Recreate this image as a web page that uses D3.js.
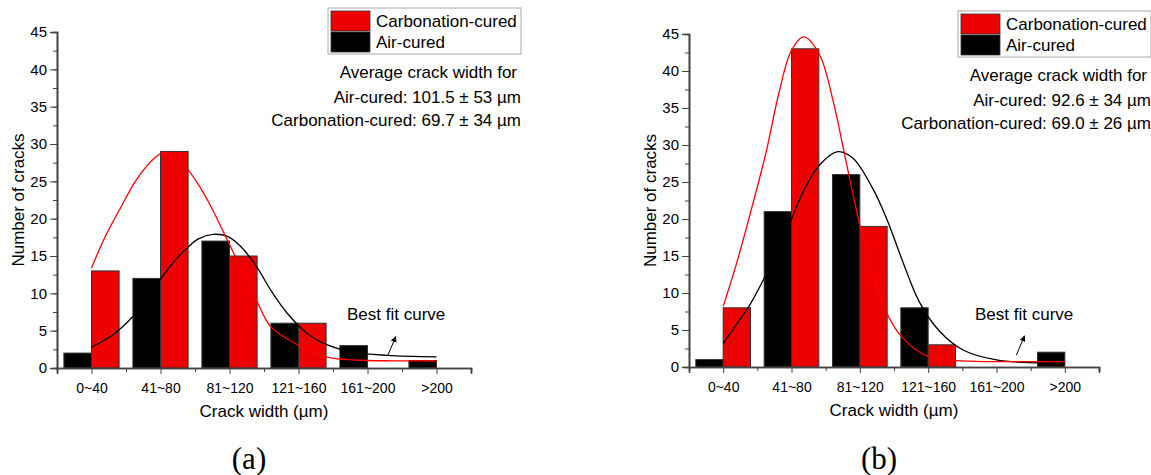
<!DOCTYPE html>
<html>
<head>
<meta charset="utf-8">
<script src="https://cdn.jsdelivr.net/npm/d3@7/dist/d3.min.js"></script>
<style>
  html, body { margin: 0; padding: 0; background: #fff; }
  svg { display: block; }
  text { font-family: "Liberation Sans", Arial, sans-serif; fill: #000; }
  text.panel-label { font-family: "Liberation Serif", "Times New Roman", serif; }
</style>
</head>
<body>
<svg id="chart" width="1151" height="475"></svg>
<script>
// Crack width classes shared by both panels
const categories = ["0~40", "41~80", "81~120", "121~160", "161~200", ">200"];
const yTickValues = [0, 5, 10, 15, 20, 25, 30, 35, 40, 45];

// Panel (a): crack counts per width class
const airCountsA = [2, 12, 17, 6, 3, 1];
const carbCountsA = [13, 29, 15, 6, 0, 0];
// Panel (b): crack counts per width class
const airCountsB = [1, 21, 26, 8, 0, 2];
const carbCountsB = [8, 43, 19, 3, 0, 0];

// Best fit curves, as [class position, count]
const carbFitA = [[0, 13.4], [0.2, 17.6], [0.43, 21.6], [0.65, 25.2], [0.91, 28.1], [1.08, 28.9], [1.4, 26.5],
  [1.68, 22.5], [1.97, 17.1], [2.2, 12.7], [2.39, 9.1], [2.6, 5.5], [2.99, 3.1], [3.4, 1.5], [3.81, 1.07],
  [4.4, 0.96], [5, 0.94]];
const airFitA = [[0, 2.8], [0.33, 4.6], [0.6, 6.9], [0.8, 9.2], [1.0, 11.9], [1.2, 14.3], [1.4, 16.2],
  [1.55, 17.3], [1.76, 17.9], [1.98, 17.6], [2.17, 16.2], [2.39, 13.6], [2.6, 10.4], [2.84, 7.3], [3.13, 4.6],
  [3.42, 3.1], [3.81, 2.1], [4.29, 1.7], [5, 1.5]];
const carbFitB = [[0, 8.2], [0.19, 13.8], [0.43, 21.9], [0.63, 29.1], [0.82, 37.2], [1.0, 42.8], [1.18, 44.6],
  [1.41, 42.2], [1.61, 35.9], [1.8, 27.7], [2.0, 19.2], [2.2, 12.5], [2.41, 7.0], [2.63, 3.9], [3.0, 1.4],
  [3.41, 0.85], [4.0, 0.73], [5, 0.72]];
const airFitB = [[0, 3.2], [0.19, 5.7], [0.39, 8.4], [0.6, 12.0], [0.8, 15.8], [1.0, 20.0], [1.17, 23.7],
  [1.41, 27.3], [1.68, 29.1], [1.9, 28.2], [2.19, 24.1], [2.39, 20.1], [2.63, 14.2], [2.87, 8.8], [3.17, 4.8],
  [3.51, 2.3], [4.0, 0.95], [4.58, 0.55], [5, 0.5]];

// Summary lines
const statsA = ["Average crack width for", "Air-cured: 101.5 \u00b1 53 \u00b5m", "Carbonation-cured: 69.7 \u00b1 34 \u00b5m"];
const statsB = ["Average crack width for", "Air-cured: 92.6 \u00b1 34 \u00b5m", "Carbonation-cured: 69.0 \u00b1 26 \u00b5m"];
const seriesNames = ["Carbonation-cured", "Air-cured"];

const RED = "#ee0000";
const AXIS = "#444";

const svg = d3.select("#chart");
const defs = svg.append("defs");
defs.append("marker")
  .attr("id", "arrowHead")
  .attr("viewBox", "0 0 10 10")
  .attr("refX", 9).attr("refY", 5)
  .attr("markerWidth", 6).attr("markerHeight", 6)
  .attr("markerUnits", "userSpaceOnUse")
  .attr("orient", "auto")
  .append("path").attr("d", "M0,0 L10,5 L0,10 z").attr("fill", "#000");

function drawPanel(p) {
  const g = svg.append("g");
  const x = d3.scaleLinear().domain([-0.5, categories.length - 0.5]).range([p.left, p.right]);
  const y = d3.scaleLinear().domain([0, 45]).range([p.bottom, p.top]);
  const barW = 0.4;

  // bars: air-cured left of each class tick, carbonation-cured right of it
  g.append("g").selectAll("rect").data(p.air).join("rect")
    .attr("x", (d, i) => x(i - barW)).attr("width", (d, i) => x(i) - x(i - barW))
    .attr("y", d => y(d)).attr("height", d => y(0) - y(d))
    .attr("fill", "#000").attr("stroke", "#333").attr("stroke-width", 1)
    .attr("display", d => d > 0 ? null : "none");
  g.append("g").selectAll("rect").data(p.carb).join("rect")
    .attr("x", (d, i) => x(i)).attr("width", (d, i) => x(i + barW) - x(i))
    .attr("y", d => y(d)).attr("height", d => y(0) - y(d))
    .attr("fill", RED).attr("stroke", "#333").attr("stroke-width", 1)
    .attr("display", d => d > 0 ? null : "none");

  // fitted distribution curves
  const line = d3.line().x(d => x(d[0])).y(d => y(d[1])).curve(d3.curveCatmullRom.alpha(0.5));
  g.append("path").datum(p.airFit).attr("d", line)
    .attr("fill", "none").attr("stroke", "#000").attr("stroke-width", 1.3);
  g.append("path").datum(p.carbFit).attr("d", line)
    .attr("fill", "none").attr("stroke", "#ff0000").attr("stroke-width", 1.3);

  // y axis
  const yAxis = g.append("g").attr("transform", `translate(${p.left},0)`);
  yAxis.call(d3.axisLeft(y).tickValues(d3.range(0, 45.1, 2.5)).tickSize(4).tickFormat(""));
  yAxis.call(ax => ax.selectAll(".tick line").attr("stroke", AXIS));
  const yMajor = g.append("g").attr("transform", `translate(${p.left},0)`)
    .call(d3.axisLeft(y).tickValues(yTickValues).tickSize(7).tickPadding(3));
  yMajor.selectAll(".tick line").attr("stroke", AXIS);
  yMajor.selectAll(".tick text").style("font-size", "15px").attr("fill", "#000");
  [yAxis, yMajor].forEach(a => a.select(".domain").attr("stroke", AXIS).attr("stroke-width", 1.6));

  // x axis: class ticks plus minor ticks between classes
  const xMinor = g.append("g").attr("transform", `translate(0,${p.bottom})`)
    .call(d3.axisBottom(x).tickValues(d3.range(-0.5, categories.length, 1)).tickSize(4).tickFormat(""));
  xMinor.selectAll(".tick line").attr("stroke", AXIS);
  const xMajor = g.append("g").attr("transform", `translate(0,${p.bottom})`)
    .call(d3.axisBottom(x).tickValues(d3.range(categories.length)).tickSize(6).tickPadding(9)
      .tickFormat(i => categories[i]));
  xMajor.selectAll(".tick line").attr("stroke", AXIS);
  xMajor.selectAll(".tick text").style("font-size", "14px").attr("fill", "#000");
  [xMinor, xMajor].forEach(a => a.select(".domain").attr("stroke", AXIS).attr("stroke-width", 1.6));

  // axis titles
  g.append("text").attr("x", (p.left + p.right) / 2).attr("y", p.bottom + 49)
    .attr("text-anchor", "middle").attr("font-size", 17).text("Crack width (\u00b5m)");
  g.append("text").attr("transform", `translate(${p.left - 33},${(p.top + p.bottom) / 2}) rotate(-90)`)
    .attr("text-anchor", "middle").attr("font-size", 17).text("Number of cracks");

  // legend
  const lg = g.append("g").attr("transform", `translate(${p.legendX},${p.legendY})`);
  lg.append("rect").attr("width", 193).attr("height", 46).attr("fill", "#fff")
    .attr("stroke", "#aaa").attr("stroke-width", 1);
  [RED, "#000"].forEach((c, i) => {
    lg.append("rect").attr("x", 3).attr("y", 3 + i * 21).attr("width", 39).attr("height", 20)
      .attr("fill", c).attr("stroke", "#333").attr("stroke-width", 0.8);
    lg.append("text").attr("x", 48).attr("y", 19 + i * 21).attr("font-size", 17).text(seriesNames[i]);
  });

  // summary text
  g.append("g").selectAll("text").data(p.stats).join("text")
    .attr("x", (d, i) => p.legendX + (i === 0 ? 189 : 193))
    .attr("y", (d, i) => p.statsY + [0, 25, 48][i])
    .attr("text-anchor", "end").attr("font-size", 17).text(d => d);

  // best fit annotation
  g.append("text").attr("x", p.noteX).attr("y", p.noteY).attr("font-size", 17).text("Best fit curve");
  g.append("line")
    .attr("x1", x(4.29)).attr("y1", y(1.6)).attr("x2", x(4.41)).attr("y2", y(4.2))
    .attr("stroke", "#000").attr("stroke-width", 1).attr("marker-end", "url(#arrowHead)");

  // panel label
  svg.append("text").attr("class", "panel-label").attr("x", p.labelX).attr("y", 469)
    .attr("text-anchor", "middle").attr("font-size", 31).text(p.label);
}

drawPanel({
  left: 57, right: 471, top: 32, bottom: 368,
  air: airCountsA, carb: carbCountsA, airFit: airFitA, carbFit: carbFitA,
  legendX: 328, legendY: 8, stats: statsA, statsY: 78,
  noteX: 347, noteY: 320, label: "(a)", labelX: 249
});
drawPanel({
  left: 689, right: 1099, top: 34, bottom: 367,
  air: airCountsB, carb: carbCountsB, airFit: airFitB, carbFit: carbFitB,
  legendX: 958, legendY: 11, stats: statsB, statsY: 81,
  noteX: 975, noteY: 320, label: "(b)", labelX: 879
});
</script>
</body>
</html>
